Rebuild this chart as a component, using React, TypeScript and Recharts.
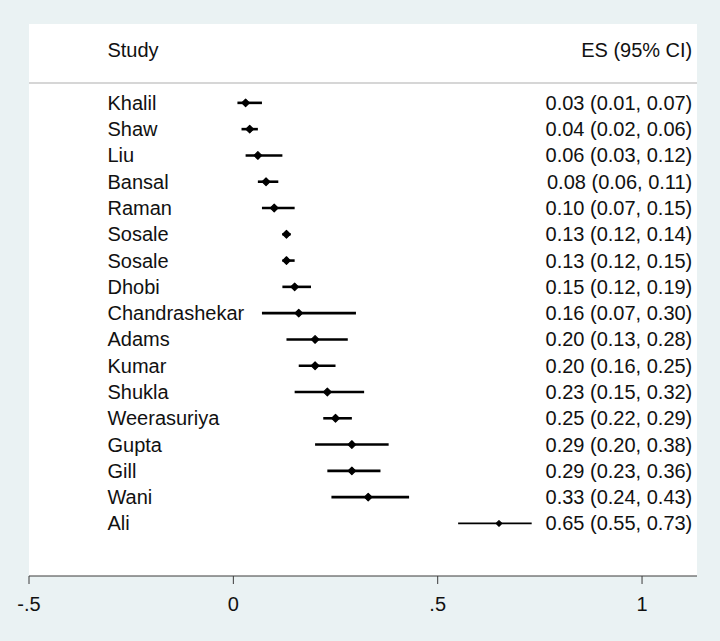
import {
  ComposedChart,
  Scatter,
  ErrorBar,
  XAxis,
  YAxis,
  CartesianGrid,
  ReferenceLine,
} from "recharts";

const studies = [
  "Khalil", "Shaw", "Liu", "Bansal", "Raman", "Sosale", "Sosale", "Dhobi",
  "Chandrashekar", "Adams", "Kumar", "Shukla", "Weerasuriya", "Gupta", "Gill", "Wani", "Ali",
];
const es = [0.03, 0.04, 0.06, 0.08, 0.1, 0.13, 0.13, 0.15, 0.16, 0.2, 0.2, 0.23, 0.25, 0.29, 0.29, 0.33, 0.65];
const ciLow = [0.01, 0.02, 0.03, 0.06, 0.07, 0.12, 0.12, 0.12, 0.07, 0.13, 0.16, 0.15, 0.22, 0.2, 0.23, 0.24, 0.55];
const ciHigh = [0.07, 0.06, 0.12, 0.11, 0.15, 0.14, 0.15, 0.19, 0.3, 0.28, 0.25, 0.32, 0.29, 0.38, 0.36, 0.43, 0.73];
const thinStudies = ["Ali"];
const xTicks = [-0.5, 0, 0.5, 1];
const headers = { study: "Study", es: "ES (95% CI)" };

// column positions in x units
const nameCol = -0.308;
const esCol = 1.123;
const xMax = 1.1345;

const FONT = "'Liberation Sans', Arial, sans-serif";

const rows = studies.map((s, i) => ({
  name: s,
  x: es[i],
  y: i + 1,
  err: [es[i] - ciLow[i], ciHigh[i] - es[i]],
  thin: thinStudies.includes(s),
}));

const nameLabels = [
  { x: nameCol, y: -1, label: headers.study },
  ...rows.map((r) => ({ x: nameCol, y: r.y, label: r.name })),
];
const esLabels = [
  { x: esCol, y: -1, label: headers.es },
  ...rows.map((r, i) => ({
    x: esCol,
    y: r.y,
    label: `${es[i].toFixed(2)} (${ciLow[i].toFixed(2)}, ${ciHigh[i].toFixed(2)})`,
  })),
];

const fmtTick = (v: number) => (v === 0 || v === 1 ? String(v) : String(v).replace("0.", "."));

const textShape = (anchor: "start" | "end") => (p: any) => (
  <text
    x={p.cx}
    y={p.cy}
    textAnchor={anchor}
    dominantBaseline="central"
    fontFamily={FONT}
    fontSize={20}
    fill="#111"
  >
    {p.payload.label}
  </text>
);

// small rounded diamond marker
const diamond = (r: number) => (p: any) => (
  <polygon
    points={`${p.cx - r},${p.cy} ${p.cx},${p.cy - r} ${p.cx + r},${p.cy} ${p.cx},${p.cy + r}`}
    fill="#000"
    stroke="#000"
    strokeWidth={1.2}
    strokeLinejoin="round"
  />
);

export default function App() {
  return (
    <div style={{ position: "absolute", left: 0, top: 0, width: 720, height: 641, background: "#eaf2f3" }}>
      <ComposedChart width={720} height={641} margin={{ top: 24, right: 23, bottom: 25, left: 29 }}>
        <CartesianGrid horizontal={false} vertical={false} fill="#ffffff" />
        <XAxis
          type="number"
          dataKey="x"
          domain={[-0.5, xMax]}
          allowDataOverflow
          ticks={xTicks}
          tickFormatter={fmtTick}
          height={40}
          tickSize={8}
          tickMargin={13}
          stroke="#3a3a3a"
          tick={{ fontSize: 20, fontFamily: FONT, fill: "#111" }}
        />
        <YAxis type="number" dataKey="y" domain={[-2, 19]} reversed hide allowDataOverflow />
        <ReferenceLine y={0.24} stroke="#c8c8c8" strokeWidth={1.5} />
        <Scatter data={rows.filter((r) => !r.thin)} shape={diamond(3.8)} isAnimationActive={false}>
          <ErrorBar dataKey="err" direction="x" width={0} stroke="#000" strokeWidth={2.6} />
        </Scatter>
        <Scatter data={rows.filter((r) => r.thin)} shape={diamond(2.8)} isAnimationActive={false}>
          <ErrorBar dataKey="err" direction="x" width={0} stroke="#000" strokeWidth={1.8} />
        </Scatter>
        <Scatter data={nameLabels} shape={textShape("start")} isAnimationActive={false} />
        <Scatter data={esLabels} shape={textShape("end")} isAnimationActive={false} />
      </ComposedChart>
    </div>
  );
}
